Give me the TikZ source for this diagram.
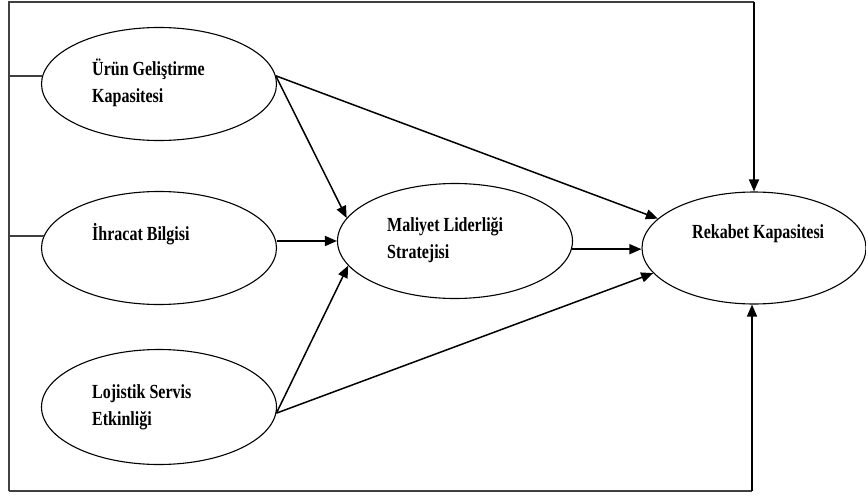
\documentclass[tikz,border=0pt]{standalone}
\usepackage{fontspec}
\setmainfont[FakeStretch=0.8]{Liberation Serif}
\usetikzlibrary{arrows.meta,shapes.geometric}
\begin{document}
\begin{tikzpicture}[x=1pt,y=-1pt,
  oval/.style={draw=black, line width=1.1pt, ellipse, inner sep=0pt},
  lbl/.style={anchor=base west, inner sep=0pt, font=\fontsize{20}{27}\selectfont\bfseries, align=left},
  arr/.style={draw=black, line width=1.5pt, -{Triangle[length=12pt,width=10pt]}},
  frame/.style={draw=black!75, line width=1.8pt}]
\useasboundingbox (0,0) rectangle (866,495);
% ellipses
\node[oval, minimum width=235pt, minimum height=113pt] (u) at (159,84) {};
\node[oval, minimum width=235pt, minimum height=113pt] (i) at (159,248) {};
\node[oval, minimum width=235pt, minimum height=115pt] (l) at (159,407) {};
\node[oval, minimum width=235pt, minimum height=115pt] (m) at (455,241) {};
\node[oval, minimum width=224pt, minimum height=112pt] (r) at (754,248) {};
% labels (base anchor = baseline of the last line)
\node[lbl] (tu) at (92,102) {Ürün Geliştirme\\Kapasitesi};
\node[lbl] (ti) at (92,240) {İhracat Bilgisi};
\node[lbl] (tl) at (92,425) {Lojistik Servis\\Etkinliği};
\node[lbl] (tm) at (387,258) {Maliyet Liderliği\\Stratejisi};
\node[lbl] (tr) at (692,238) {Rekabet Kapasitesi};
% frame
\coordinate (ctl) at (9,2);
\coordinate (cbl) at (9,491);
\draw[frame] (cbl) -- (ctl) -- (r.north |- ctl);
\draw[frame] (cbl) -- ([xshift=-2pt]r.south |- cbl);
\draw[arr, line width=1.6pt] (r.north |- ctl) -- (r.north);
\draw[arr, line width=1.6pt] ([xshift=-2pt]r.south |- cbl) -- ([xshift=-2pt]r.south);
\draw[frame] (ctl |- u.176) -- (u.176);
\draw[frame] (ctl |- i.174) -- (i.174);
% arrows
\draw[arr] (u.4) -- (m.168);
\draw[arr] (u.4) -- (r.163);
\draw[arr] (i.east |- m.west) -- (m.west);
\draw[arr] (l.-3) -- (m.193);
\draw[arr] (l.-3) -- (r.194);
\draw[arr] (m.-4) -- (r.west |- m.-4);
\end{tikzpicture}
\end{document}
